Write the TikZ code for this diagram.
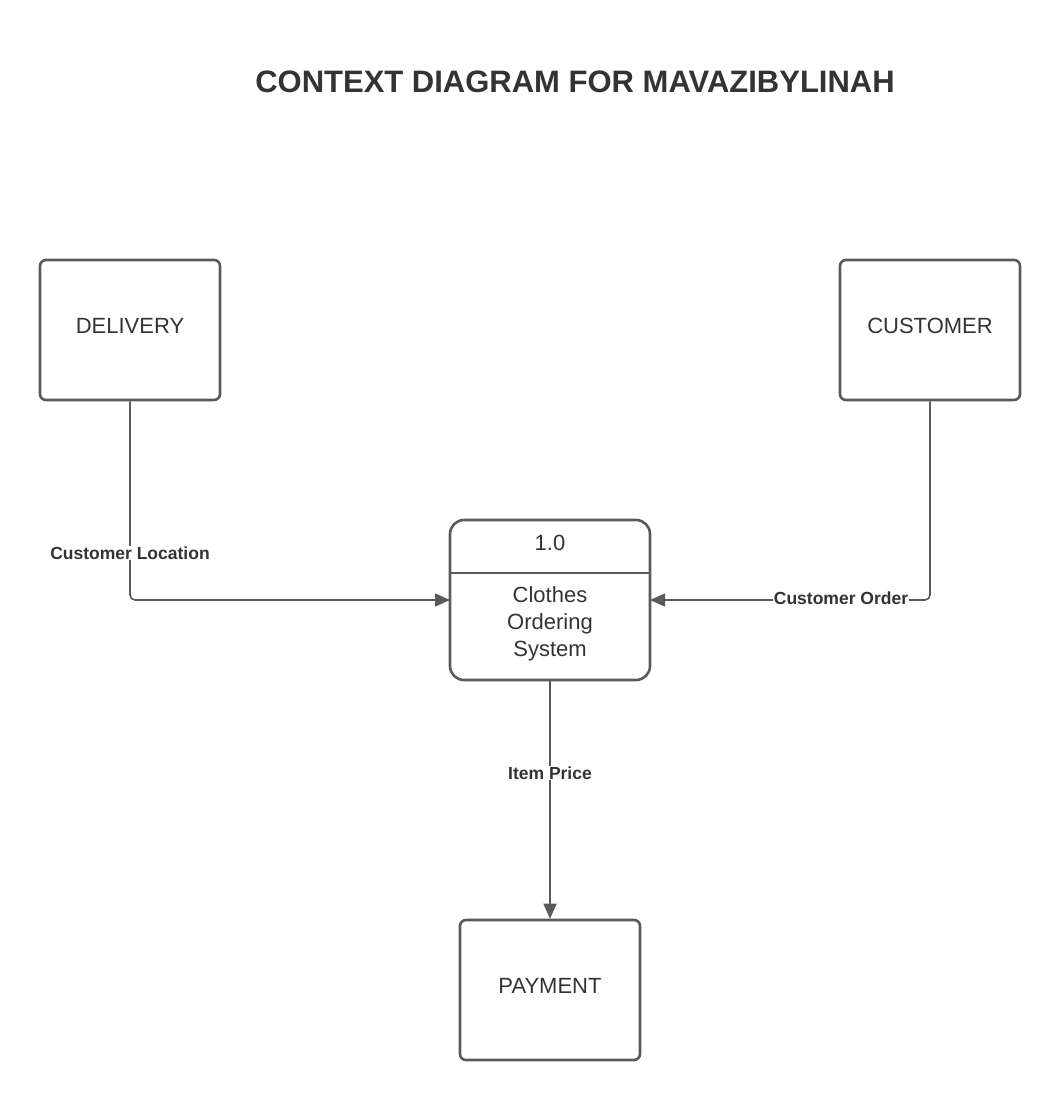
\documentclass[tikz,border=0pt]{standalone}
\usepackage{fontspec}
\setmainfont{Liberation Sans}
\usetikzlibrary{arrows.meta}
\definecolor{linec}{HTML}{5A5A5A}
\definecolor{textc}{HTML}{333333}
\tikzset{
  entity/.style={draw=linec, line width=2.6pt, rounded corners=6pt, minimum width=180pt, minimum height=140pt, inner sep=0pt, text=textc},
  enttext/.style={font=\fontsize{22}{26}\selectfont, text=textc},
  flow/.style={draw=linec, line width=1.6pt, rounded corners=5pt, -{Triangle[length=15pt,width=13pt]}},
  flowlabel/.style={fill=white, inner sep=1pt, font=\bfseries\fontsize{17.5}{20}\selectfont, text=textc}
}
\begin{document}
\begin{tikzpicture}[x=1pt,y=-1pt]
\useasboundingbox (0,0) rectangle (1060,1100);
\node[font=\bfseries\fontsize{31}{36}\selectfont, text=textc] (title) at (575,82) {CONTEXT DIAGRAM FOR MAVAZIBYLINAH};
\node[entity] (delivery) at (130,330) {};
\node[entity] (customer) at (930,330) {};
\node[entity] (payment) at (550,990) {};
\node[enttext] (tdel) at (130,326) {DELIVERY};
\node[enttext] (tcus) at (930,326) {CUSTOMER};
\node[enttext] (tpay) at (550,986) {PAYMENT};
% process
\node[draw=linec, line width=2.6pt, rounded corners=14pt, minimum width=200pt, minimum height=160pt, inner sep=0pt] (proc) at (550,600) {};
\coordinate (dl) at (450,573);
\coordinate (dr) at (650,573);
\draw[draw=linec, line width=2.6pt] (dl) -- (dr);
\node[enttext] (pnum) at (550,543) {1.0};
\node[font=\fontsize{22}{27}\selectfont, text=textc, align=center] (pname) at (550,624) {Clothes\\Ordering\\System};
% flows
\coordinate (pl) at (450,600);
\coordinate (pr) at (650,600);
\draw[flow] (delivery.south) |- (pl);
\draw[flow] (customer.south) |- (pr);
\draw[flow] (proc.south) -- (payment.north);
\node[flowlabel] (l1) at (130,553) {Customer Location};
\node[flowlabel] (l2) at (841,598) {Customer Order};
\node[flowlabel] (l3) at (550,773) {Item Price};
\end{tikzpicture}
\end{document}
